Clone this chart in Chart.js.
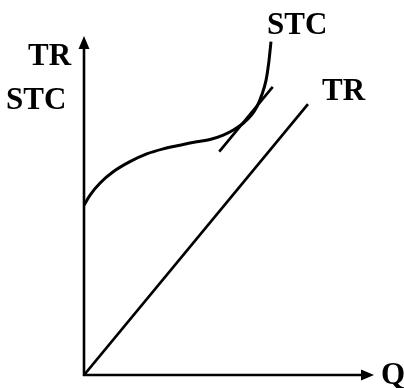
<!DOCTYPE html>
<html>
<head>
<meta charset="utf-8">
<script src="https://cdn.jsdelivr.net/npm/chart.js@4/dist/chart.umd.min.js"></script>
<style>
  html, body { margin: 0; padding: 0; background: #fff; }
  #wrap { width: 404px; height: 388px; }
</style>
</head>
<body>
<div id="wrap"><canvas id="chart" width="404" height="388"></canvas></div>
<script>
// --- Données (Q de 0 à 10, coûts de 0 à 10) ---
const stcQ    = [0, 0.21, 0.55, 1.01, 1.59, 2.17, 2.74, 3.32, 3.90, 4.36, 4.82, 5.17, 5.51, 5.80, 5.98, 6.15, 6.30, 6.39, 6.44, 6.47];
const stcCost = [5.04, 5.34, 5.69, 6.03, 6.33, 6.56, 6.71, 6.82, 6.92, 6.99, 7.12, 7.27, 7.47, 7.72, 7.96, 8.31, 8.75, 9.25, 9.64, 9.89];

const trQ       = [0, 7.75];
const trRevenue = [0, 8.04];

const tangentQ    = [4.68, 6.53];
const tangentCost = [6.63, 8.55];

// étiquettes de la figure
const labels = [
  { text: 'STC', x: 267, y: 34 },
  { text: 'TR',  x: 322, y: 100 },
  { text: 'TR',  x: 28,  y: 65 },
  { text: 'STC', x: 6,   y: 109 },
  { text: 'Q',   x: 381, y: 384 }
];

function toPoints(xs, ys) {
  return xs.map((x, i) => ({ x: x, y: ys[i] }));
}

// --- Axes fléchés + textes ---
const axesPlugin = {
  id: 'axesArrows',
  afterDatasetsDraw(chart) {
    const ctx = chart.ctx;
    const x0 = chart.scales.x.getPixelForValue(0);
    const y0 = chart.scales.y.getPixelForValue(0);
    const xEnd = chart.scales.x.getPixelForValue(10);
    const yEnd = chart.scales.y.getPixelForValue(10);

    ctx.save();
    ctx.strokeStyle = '#000';
    ctx.fillStyle = '#000';
    ctx.lineWidth = 2.6;
    ctx.beginPath();
    ctx.moveTo(x0, y0 + 1);
    ctx.lineTo(x0, yEnd + 6);
    ctx.moveTo(x0 - 1, y0);
    ctx.lineTo(xEnd - 6, y0);
    ctx.stroke();

    // flèche verticale
    ctx.beginPath();
    ctx.moveTo(x0, yEnd - 2);
    ctx.lineTo(x0 - 5.5, yEnd + 11);
    ctx.lineTo(x0 + 5.5, yEnd + 11);
    ctx.closePath();
    ctx.fill();

    // flèche horizontale
    ctx.beginPath();
    ctx.moveTo(xEnd + 1, y0);
    ctx.lineTo(xEnd - 12, y0 - 5.5);
    ctx.lineTo(xEnd - 12, y0 + 5.5);
    ctx.closePath();
    ctx.fill();

    ctx.font = 'bold 31px "Liberation Serif", "Times New Roman", serif';
    ctx.textBaseline = 'alphabetic';
    ctx.textAlign = 'left';
    labels.forEach(l => ctx.fillText(l.text, l.x, l.y));
    ctx.restore();
  }
};

const ctx = document.getElementById('chart');
new Chart(ctx, {
  type: 'line',
  data: {
    datasets: [
      {
        label: 'STC',
        data: toPoints(stcQ, stcCost),
        borderColor: '#000',
        borderWidth: 3,
        cubicInterpolationMode: 'monotone',
        pointRadius: 0,
        fill: false
      },
      {
        label: 'TR',
        data: toPoints(trQ, trRevenue),
        borderColor: '#000',
        borderWidth: 2.7,
        pointRadius: 0,
        fill: false
      },
      {
        label: 'tangente',
        data: toPoints(tangentQ, tangentCost),
        borderColor: '#000',
        borderWidth: 2.7,
        pointRadius: 0,
        fill: false
      }
    ]
  },
  options: {
    responsive: false,
    animation: false,
    layout: { padding: { left: 84, right: 31, top: 38, bottom: 13 } },
    plugins: { legend: { display: false }, tooltip: { enabled: false } },
    scales: {
      x: { type: 'linear', min: 0, max: 10, display: false },
      y: { type: 'linear', min: 0, max: 10, display: false }
    }
  },
  plugins: [axesPlugin]
});
</script>
</body>
</html>
